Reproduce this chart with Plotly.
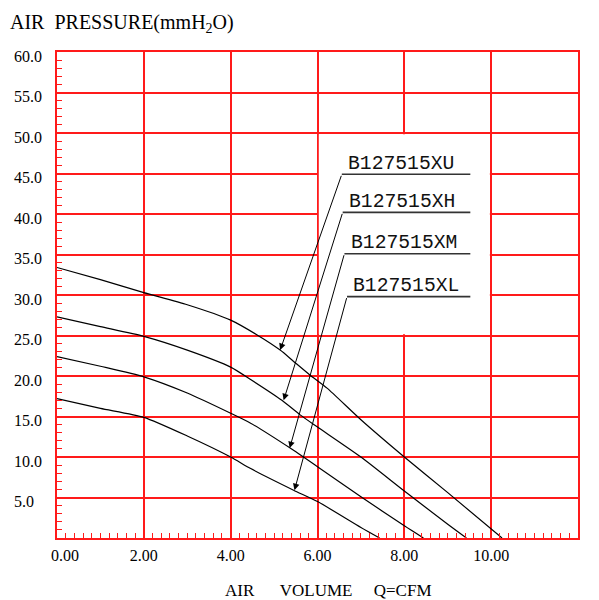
import plotly.graph_objects as go

# ---------------- data ----------------
series_names = ["B127515XU", "B127515XH", "B127515XM", "B127515XL"]

x_xu = [0, 1, 2, 3, 4, 4.6, 5.14, 5.45, 5.83, 6.22, 7, 8, 9, 10.25]
y_xu = [33.4, 31.9, 30.3, 28.8, 26.9, 25.1, 23.2, 21.8, 20.1, 18.5, 14.6, 10.0, 5.6, 0]

x_xh = [0, 1, 2, 3, 4, 4.45, 5.18, 5.6, 6, 7, 8, 9, 9.43]
y_xh = [27.3, 26.1, 24.9, 23.2, 21.1, 19.6, 17.0, 15.2, 13.7, 10.0, 5.8, 1.7, 0]

x_xm = [0, 1, 2, 3, 4, 4.45, 5.37, 6, 7, 8, 8.44]
y_xm = [22.4, 21.2, 19.9, 17.9, 15.4, 14.2, 11.1, 8.8, 5.1, 1.5, 0]

x_xl = [0, 1, 2, 3, 4, 4.45, 5.45, 6, 7, 7.43]
y_xl = [17.2, 16.0, 14.9, 12.6, 10.0, 8.6, 5.9, 4.5, 1.3, 0]

x_tick_vals = [0, 2, 4, 6, 8, 10, 12]
x_tick_text = ["0.00", "2.00", "4.00", "6.00", "8.00", "10.00", "12.00"]
y_tick_vals = [5, 10, 15, 20, 25, 30, 35, 40, 45, 50, 55, 60]
y_tick_text = ["5.0", "10.0", "15.0", "20.0", "25.0", "30.0", "35.0", "40.0",
               "45.0", "50.0", "55.0", "60.0"]

# arrow tips on curves and label anchor points
arrow_tip_x = [5.14, 5.22, 5.36, 5.47]
arrow_tip_y = [23.2, 17.0, 11.1, 5.9]
leader_x = [6.56, 6.58, 6.62, 6.68]
leader_y = [44.9, 40.2, 35.1, 29.8]

xs = [x_xu, x_xh, x_xm, x_xl]
ys = [y_xu, y_xh, y_xm, y_xl]

RED = "#ff1a1a"
SERIF = "Liberation Serif"

# the page body has an 8px default margin; the figure is sized to fit the window
W, H = 591, 592

fig = go.Figure()
for name, xv, yv in zip(series_names, xs, ys):
    fig.add_trace(go.Scatter(x=xv, y=yv, mode="lines", name=name,
                             line=dict(color="black", width=1.2, shape="spline", smoothing=0.6),
                             showlegend=False, hoverinfo="skip"))

# white box behind the labels (interrupts grid)
fig.add_shape(type="rect", xref="x", yref="y", x0=6.03, x1=9.97, y0=25.15, y1=49.85,
              fillcolor="white", line=dict(width=0), layer="between")

for name, tx, ty, lx, ly in zip(series_names, arrow_tip_x, arrow_tip_y, leader_x, leader_y):
    fig.add_shape(type="line", xref="x", yref="y", x0=lx, y0=ly, x1=9.52, y1=ly,
                  line=dict(color="#333333", width=1.6), layer="above")
    fig.add_annotation(x=tx, y=ty, ax=lx, ay=ly, xref="x", yref="y", axref="x", ayref="y",
                       text="", showarrow=True, arrowhead=2, arrowsize=1.3,
                       arrowwidth=1, arrowcolor="black", standoff=0)
    fig.add_annotation(x=lx + 0.1, y=ly + 1.3, xref="x", yref="y", text=name,
                       showarrow=False, xanchor="left", yanchor="middle",
                       font=dict(family="Liberation Mono", size=19.7, color="#111111"))

# x-axis title
fig.add_annotation(xref="paper", yref="paper", x=0.522, y=-0.107,
                   text="AIR\u00a0\u00a0\u00a0\u00a0\u00a0\u00a0VOLUME\u00a0\u00a0\u00a0\u00a0\u00a0Q=CFM",
                   showarrow=False, xanchor="center", yanchor="middle",
                   font=dict(family=SERIF, size=17, color="black"))

x_text = list(x_tick_text)
x_text[0] = "\u00a0\u00a0\u00a0\u00a0" + x_text[0]
x_text[-1] = "\u00a0\u00a0" + x_text[-1]
y_text = [t + "\u00a0\u00a0" if len(t) == 3 else t for t in y_tick_text]

fig.update_layout(
    width=W, height=H,
    margin=dict(l=49, r=21, t=44, b=62, autoexpand=False),
    paper_bgcolor="white", plot_bgcolor="white",
    title=dict(text="AIR\u00a0\u00a0PRESSURE(mmH<sub>2</sub>O)", xref="container", yref="container",
               x=2 / W, y=1 - 14 / H, xanchor="left", yanchor="middle",
               font=dict(family=SERIF, size=20, color="black")),
    xaxis=dict(range=[0, 12], tickvals=x_tick_vals, ticktext=x_text, automargin=False,
               showgrid=True, gridcolor=RED, gridwidth=1.5,
               showline=True, linecolor=RED, linewidth=1.5, mirror=True,
               ticks="inside", ticklen=5, tickcolor=RED, tickwidth=1.2,
               minor=dict(dtick=0.2, tick0=0, ticks="inside", ticklen=5, tickcolor=RED,
                          tickwidth=1.2, showgrid=False),
               ticklabelstandoff=2,
               tickfont=dict(family=SERIF, size=16, color="black"),
               zeroline=False, fixedrange=True),
    yaxis=dict(range=[0, 60], tickvals=y_tick_vals, ticktext=y_text, automargin=False,
               showgrid=True, gridcolor=RED, gridwidth=1.5,
               showline=True, linecolor=RED, linewidth=1.5, mirror=True,
               ticks="inside", ticklen=5, tickcolor=RED, tickwidth=1.2,
               minor=dict(dtick=1, tick0=0, ticks="inside", ticklen=5, tickcolor=RED,
                          tickwidth=1.2, showgrid=False),
               ticklabelstandoff=10, ticklabelshift=4,
               tickfont=dict(family=SERIF, size=16, color="black"),
               zeroline=False, fixedrange=True),
)

fig.write_html("out.html")
